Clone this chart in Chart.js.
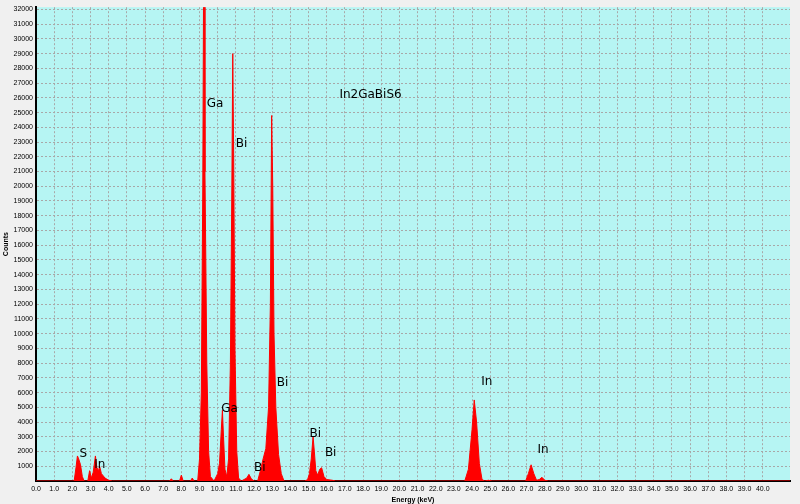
<!DOCTYPE html>
<html lang="en">
<head>
<meta charset="UTF-8">
<title>In2GaBiS6 EDS</title>
<script src="https://cdn.jsdelivr.net/npm/chart.js"></script>
<style>
  html, body { margin: 0; padding: 0; background: #f0f0f0; }
  #wrap { width: 800px; height: 504px; }
</style>
</head>
<body>
<div id="wrap"><canvas id="myChart"></canvas></div>
<script>
// spectrum (keV, counts)
const energy = [0, 2.1, 2.2, 2.28, 2.35, 2.45, 2.55, 2.65, 2.85, 2.95, 3.05, 3.15, 3.27, 3.35, 3.45, 3.5, 3.6, 3.8, 4.0, 4.2,
  7.35, 7.45, 7.55, 7.9, 8.0, 8.1, 8.5, 8.6, 8.7, 8.9, 9.0, 9.1, 9.18, 9.22, 9.26, 9.3, 9.4, 9.5, 9.6, 9.8,
  10.0, 10.1, 10.2, 10.26, 10.32, 10.4, 10.5, 10.6, 10.7, 10.78, 10.83, 10.88, 10.95, 11.05, 11.15, 11.3,
  11.6, 11.72, 11.85, 12.0, 12.2, 12.35, 12.5, 12.65, 12.8, 12.9, 12.97, 13.03, 13.1, 13.2, 13.35, 13.5, 13.65,
  14.8, 14.95, 15.05, 15.15, 15.25, 15.32, 15.4, 15.5, 15.62, 15.72, 15.85, 16.0, 16.3, 16.5,
  23.6, 23.8, 24.0, 24.12, 24.25, 24.4, 24.55, 24.7, 24.9, 25.1,
  26.95, 27.1, 27.25, 27.4, 27.55, 27.7, 27.85, 28.0, 28.2, 41.5];
const counts = [0, 0, 900, 1700, 1500, 1100, 300, 0, 0, 700, 200, 600, 1700, 900, 700, 1000, 500, 200, 50, 0,
  0, 150, 0, 0, 400, 0, 0, 200, 0, 0, 1500, 6000, 20000, 32500, 32500, 21000, 8000, 2000, 300, 0,
  500, 1200, 3500, 4800, 3000, 800, 300, 1500, 8000, 20000, 29000, 22000, 9000, 2000, 200, 0,
  200, 450, 150, 0, 0, 700, 1500, 2200, 5000, 12000, 24800, 20000, 10000, 5000, 1800, 500, 0,
  0, 100, 500, 1500, 3000, 2000, 700, 400, 800, 900, 300, 100, 50, 0,
  0, 800, 3500, 5500, 4000, 1200, 100, 0, 50, 0,
  0, 500, 1100, 500, 50, 100, 250, 50, 0, 0];

// axis tick values
const xTicks = [0, 1, 2, 3, 4, 5, 6, 7, 8, 9, 10, 11, 12, 13, 14, 15, 16, 17, 18, 19, 20,
  21, 22, 23, 24, 25, 26, 27, 28, 29, 30, 31, 32, 33, 34, 35, 36, 37, 38, 39, 40];
const yTicks = [1000, 2000, 3000, 4000, 5000, 6000, 7000, 8000, 9000, 10000, 11000, 12000, 13000, 14000, 15000, 16000,
  17000, 18000, 19000, 20000, 21000, 22000, 23000, 24000, 25000, 26000, 27000, 28000, 29000, 30000, 31000, 32000];

// peak labels: text, energy, counts
const labelText = ['In2GaBiS6', 'S', 'In', 'Ga', 'Bi', 'Ga', 'Bi', 'Bi', 'Bi', 'Bi', 'In', 'In'];
const labelX = [16.7, 2.4, 3.2, 9.4, 11.0, 10.2, 13.25, 12.0, 15.05, 15.9, 24.5, 27.6];
const labelY = [26200, 1850, 1100, 25600, 22850, 4900, 6650, 870, 3230, 1880, 6720, 2080];

const points = energy.map((e, i) => ({ x: e, y: counts[i] }));

const bgPlugin = {
  id: 'bg',
  beforeDraw(chart) {
    const { ctx, chartArea: a } = chart;
    ctx.save();
    ctx.fillStyle = '#b6f5f3';
    ctx.fillRect(a.left, a.top, a.right - a.left, a.bottom - a.top);
    ctx.restore();
  },
  afterDatasetsDraw(chart) {
    const { ctx, scales } = chart;
    ctx.save();
    ctx.font = '12px "DejaVu Sans", sans-serif';
    ctx.fillStyle = '#000';
    ctx.textBaseline = 'middle';
    labelText.forEach((t, i) => {
      ctx.fillText(t, scales.x.getPixelForValue(labelX[i]), scales.y.getPixelForValue(labelY[i]));
    });
    ctx.restore();
  }
};

const grid = { color: '#a8a8a8', drawTicks: false };

new Chart(document.getElementById('myChart'), {
  type: 'line',
  data: {
    datasets: [{
      data: points,
      borderColor: '#ff0000',
      backgroundColor: '#ff0000',
      borderWidth: 1,
      pointRadius: 0,
      fill: 'origin',
      tension: 0
    }]
  },
  options: {
    animation: false,
    responsive: true,
    maintainAspectRatio: false,
    layout: { padding: { top: 3, right: 10, left: 2 } },
    plugins: { legend: { display: false }, tooltip: { enabled: false } },
    scales: {
      x: {
        type: 'linear', min: 0, max: 41.5,
        afterBuildTicks: s => { s.ticks = xTicks.map(v => ({ value: v })); },
        afterFit: s => { s.height = 23; },
        ticks: { padding: 4, font: { size: 7 }, color: '#000', maxRotation: 0, autoSkip: false, callback: v => v.toFixed(1) },
        grid: grid,
        border: { color: '#000', width: 2, dash: [2, 2] },
        title: { display: true, text: 'Energy (keV)', font: { size: 7, weight: 'bold' }, color: '#000', padding: 0 }
      },
      y: {
        min: 0, max: 32150,
        afterBuildTicks: s => { s.ticks = yTicks.map(v => ({ value: v })); },
        afterFit: s => { s.width = 34; },
        ticks: { padding: 3, font: { size: 7 }, color: '#000', autoSkip: false, callback: v => String(v) },
        grid: grid,
        border: { color: '#000', width: 2, dash: [2, 2] },
        title: { display: true, text: 'Counts', font: { size: 7, weight: 'bold' }, color: '#000', padding: 0 }
      }
    }
  },
  plugins: [bgPlugin]
});
</script>
</body>
</html>
